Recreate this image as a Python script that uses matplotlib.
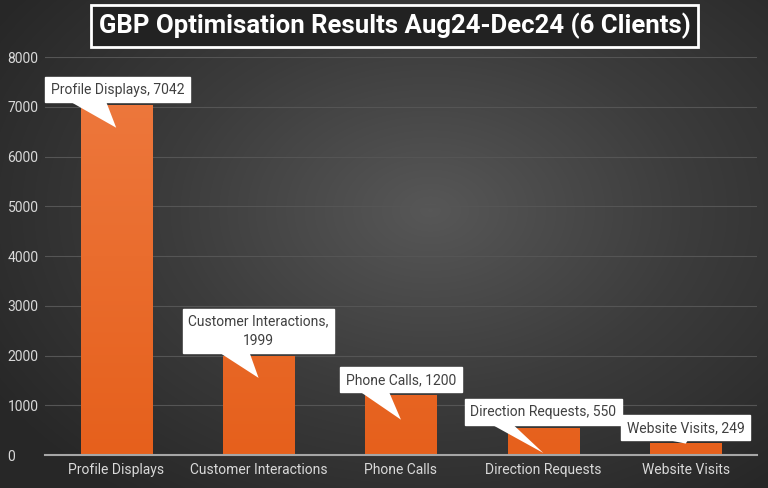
import numpy as np
import matplotlib
matplotlib.use("Agg")
import matplotlib.pyplot as plt
from matplotlib.colors import LinearSegmentedColormap
from matplotlib.patches import Polygon

categories = ["Profile Displays", "Customer Interactions", "Phone Calls",
              "Direction Requests", "Website Visits"]
values = [7042, 1999, 1200, 550, 249]
label_texts = ["Profile Displays, 7042", "Customer Interactions,\n1999",
               "Phone Calls, 1200", "Direction Requests, 550", "Website Visits, 249"]
yticks = [0, 1000, 2000, 3000, 4000, 5000, 6000, 7000, 8000]
title = "GBP Optimisation Results Aug24-Dec24 (6 Clients)"

# label placement (data y of callout box centre, data y of callout tip)
label_y = [7340, 2490, 1510, 865, 545]
tip_y = [6580, 1550, 710, 40, 230]
label_dx = [0.01, 0.0, 0.0, 0.0, 0.0]
# wedge base as fraction of box width
base_f0 = [0.17, 0.24, 0.16, 0.16, 0.34]
base_f1 = [0.42, 0.44, 0.40, 0.30, 0.52]

FONT = ['Roboto', 'DejaVu Sans']
plt.rcParams['font.family'] = FONT

fig = plt.figure(figsize=(7.68, 4.88), dpi=100)

# background radial gradient
bg = fig.add_axes([0, 0, 1, 1], zorder=-10)
yy, xx = np.mgrid[0:488, 0:768]
r = np.sqrt(((xx - 430) / 520.0) ** 2 + ((yy - 210) / 360.0) ** 2)
r = np.clip(r, 0, 1)
bg_cmap = LinearSegmentedColormap.from_list("bg", ["#575757", "#3c3c3c", "#272727"])
bg.imshow(r, cmap=bg_cmap, aspect='auto', extent=[0, 1, 0, 1], vmin=0, vmax=1)
bg.set_axis_off()

ax = fig.add_axes([0.0586, 0.0676, 0.927, 0.8154])
ax.patch.set_alpha(0)
x = np.arange(len(categories))
bars = ax.bar(x, values, width=0.5, color="#ec6a25", zorder=2)

bar_cmap = LinearSegmentedColormap.from_list("bar", ["#e6601c", "#ee7a40"])
grad = np.linspace(0, 1, 256).reshape(-1, 1)
for b in bars:
    x0 = b.get_x()
    w = b.get_width()
    im = ax.imshow(grad, cmap=bar_cmap, origin='lower', aspect='auto',
                   extent=[x0, x0 + w, 0, 8000], zorder=2)
    im.set_clip_path(b)
    b.set_facecolor('none')

ax.set_xlim(-0.5, len(categories) - 0.5)
ax.set_ylim(0, 8000)
ax.set_yticks(yticks)
ax.set_yticklabels([str(t) for t in yticks])
ax.set_xticks(x)
ax.set_xticklabels(categories)
ax.tick_params(axis='both', length=0, colors="#d9d9d9", labelsize=10)
for lab in ax.get_yticklabels():
    lab.set_horizontalalignment('left')
ax.tick_params(axis='y', pad=27)
ax.tick_params(axis='x', pad=6)
ax.grid(axis='y', color="#555555", linewidth=0.8, zorder=0)
ax.set_axisbelow(True)
for s in ['top', 'right', 'left']:
    ax.spines[s].set_visible(False)
ax.spines['bottom'].set_color("#a6a6a6")
ax.spines['bottom'].set_linewidth(1.5)
ax.spines['bottom'].set_zorder(3)

texts = []
for i, txt in enumerate(label_texts):
    t = ax.text(x[i] + label_dx[i], label_y[i], txt,
                ha='center', va='center', fontsize=10, color="#404040",
                linespacing=1.5, zorder=6,
                bbox=dict(boxstyle="square,pad=0.4", fc="white", ec="white"))
    texts.append(t)

fig.text(0.514, 0.947, title, ha='center', va='center', fontsize=18.5,
         fontweight='bold', color='white',
         bbox=dict(boxstyle="square,pad=0.3", fc="#222222", ec="white", lw=2))

fig.canvas.draw()
renderer = fig.canvas.get_renderer()
for i, t in enumerate(texts):
    bb = t.get_bbox_patch().get_window_extent(renderer)
    tip = ax.transData.transform((x[i], tip_y[i]))
    bx0 = bb.x0 + base_f0[i] * bb.width
    bx1 = bb.x0 + base_f1[i] * bb.width
    by = bb.y0 + 1
    poly = Polygon([(bx0, by), (bx1, by), (tip[0], tip[1])], closed=True,
                   transform=None, fc="white", ec="none", zorder=5)
    ax.add_artist(poly)

fig.savefig("out.png", dpi=100)
